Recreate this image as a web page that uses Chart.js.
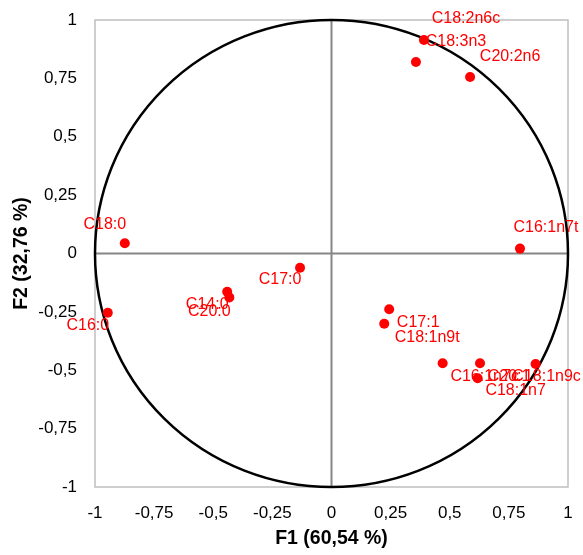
<!DOCTYPE html>
<html>
<head>
<meta charset="utf-8">
<script src="https://cdn.jsdelivr.net/npm/chart.js@4/dist/chart.umd.min.js"></script>
<style>
html,body{margin:0;padding:0;background:#fff;}
#wrap{width:583px;height:555px;position:relative;}
</style>
</head>
<body>
<div id="wrap"><canvas id="c" width="583" height="555"></canvas></div>
<script>
// Variable names (categories)
const variables = ['C18:2n6c','C18:3n3','C20:2n6','C16:1n7t','C18:0','C16:0','C14:0','C20:0','C17:0','C17:1','C18:1n9t','C16:1n7c','C20:1','C18:1n7','C18:1n9c'];
// F1 coordinates
const f1Values = [0.391, 0.357, 0.586, 0.797, -0.874, -0.946, -0.441, -0.432, -0.133, 0.244, 0.223, 0.470, 0.628, 0.618, 0.863];
// F2 coordinates
const f2Values = [0.914, 0.820, 0.756, 0.021, 0.044, -0.254, -0.164, -0.188, -0.061, -0.239, -0.301, -0.470, -0.470, -0.534, -0.473];
// Tick values
const tickValues = [-1, -0.75, -0.5, -0.25, 0, 0.25, 0.5, 0.75, 1];
const xTitle = 'F1 (60,54 %)';
const yTitle = 'F2 (32,76 %)';

// label placement offsets (style, px): [dx of label centre, dy of label centre]
const labelOffsets = [[42,-21],[40,-20],[40,-20],[26,-21],[-20,-19],[-20,13],[-20,13],[-20,14],[-20,12],[29,13],[43,14],[42,13],[29,13],[38,12.5],[11,13]];

const fmt = v => { const t = tickValues.find(x => Math.abs(x - v) < 1e-9); return t === undefined ? '' : String(t).replace('.', ','); };

const decor = {
  id: 'decor',
  beforeDatasetsDraw(chart) {
    const {ctx, chartArea: a, scales: {x, y}} = chart;
    ctx.save();
    ctx.strokeStyle = '#bfbfbf';
    ctx.lineWidth = 1.5;
    ctx.strokeRect(a.left, a.top, a.right - a.left, a.bottom - a.top);
    const x0 = x.getPixelForValue(0), y0 = y.getPixelForValue(0);
    ctx.strokeStyle = '#868686';
    ctx.lineWidth = 2;
    ctx.beginPath();
    ctx.moveTo(a.left, y0); ctx.lineTo(a.right, y0);
    ctx.moveTo(x0, a.top); ctx.lineTo(x0, a.bottom);
    ctx.stroke();
    const rx = x.getPixelForValue(1) - x0;
    const ry = y0 - y.getPixelForValue(1);
    ctx.strokeStyle = '#000';
    ctx.lineWidth = 2.5;
    ctx.beginPath();
    ctx.ellipse(x0, y0, rx, ry, 0, 0, Math.PI * 2);
    ctx.stroke();
    ctx.restore();
  },
  afterDatasetsDraw(chart) {
    const {ctx} = chart;
    const meta = chart.getDatasetMeta(0);
    ctx.save();
    ctx.fillStyle = '#ff0000';
    ctx.font = '16px "Liberation Sans", Arial, sans-serif';
    ctx.textAlign = 'center';
    ctx.textBaseline = 'middle';
    meta.data.forEach((pt, i) => {
      const o = labelOffsets[i];
      ctx.fillText(variables[i], pt.x + o[0], pt.y + o[1]);
    });
    ctx.restore();
  }
};

new Chart(document.getElementById('c'), {
  type: 'scatter',
  data: {
    datasets: [{
      label: 'Variables',
      data: variables.map((n, i) => ({x: f1Values[i], y: f2Values[i]})),
      backgroundColor: '#ff0000',
      borderColor: '#ff0000',
      pointRadius: 5,
      pointHoverRadius: 5,
      borderWidth: 0
    }]
  },
  options: {
    responsive: false,
    animation: false,
    devicePixelRatio: 1,
    layout: {padding: {left: 0, right: 15, top: 20, bottom: 0}},
    plugins: {legend: {display: false}, tooltip: {enabled: false}},
    scales: {
      x: {
        type: 'linear', min: -1, max: 1,
        afterFit(s) { s.height = 68; s.paddingLeft = 0; s.paddingRight = 0; },
        grid: {display: false, drawTicks: false},
        border: {display: false},
        ticks: {stepSize: 0.25, padding: 16, color: '#000', font: {family: '"Liberation Sans", Arial, sans-serif', size: 17}, callback: v => fmt(v), maxRotation: 0, autoSkip: false},
        title: {display: true, text: xTitle, color: '#000', font: {family: '"Liberation Sans", Arial, sans-serif', size: 19.5, weight: 'bold'}, padding: {top: 0, bottom: 5}}
      },
      y: {
        type: 'linear', min: -1, max: 1,
        afterFit(s) { s.width = 95; s.paddingTop = 0; s.paddingBottom = 0; },
        grid: {display: false, drawTicks: false},
        border: {display: false},
        ticks: {stepSize: 0.25, padding: 18, color: '#000', font: {family: '"Liberation Sans", Arial, sans-serif', size: 17}, callback: v => fmt(v), autoSkip: false},
        title: {display: true, text: yTitle, color: '#000', font: {family: '"Liberation Sans", Arial, sans-serif', size: 19.5, weight: 'bold'}, padding: {top: 10, bottom: 0}}
      }
    }
  },
  plugins: [decor]
});
</script>
</body>
</html>
